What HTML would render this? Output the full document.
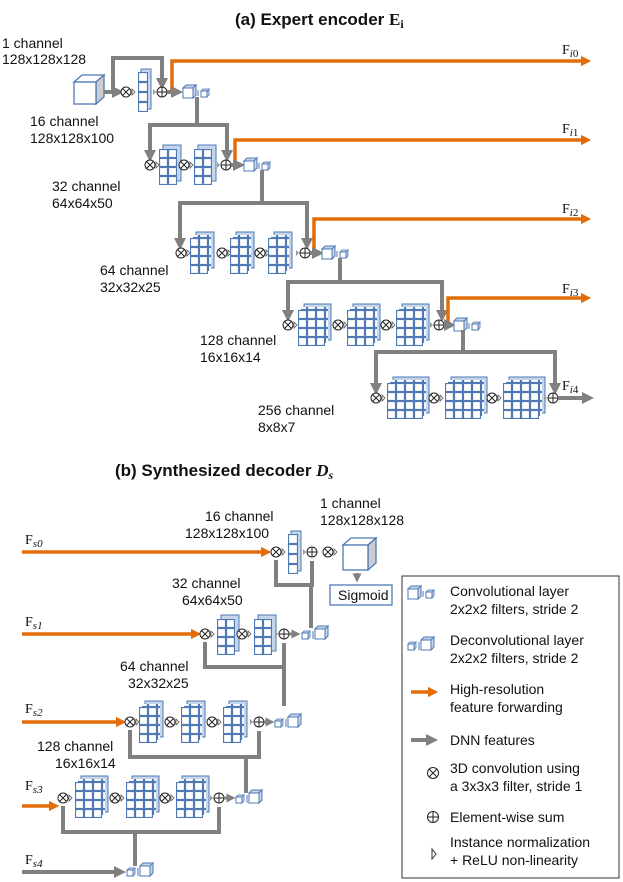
<!DOCTYPE html>
<html><head><meta charset="utf-8"><style>
html,body{margin:0;padding:0;background:#fff;width:623px;height:882px;overflow:hidden}
svg text{font-family:"Liberation Sans",sans-serif;font-size:14px;fill:#111}
.F{font-family:"Liberation Serif",serif;font-size:14px}
.g{stroke:#808080;stroke-width:4;fill:none}
.o{stroke:#e36c0a;stroke-width:3.5;fill:none}
</style></head><body>
<svg width="623" height="882" viewBox="0 0 623 882" xmlns="http://www.w3.org/2000/svg">
<defs>
<pattern id="p9" width="9" height="9" patternUnits="userSpaceOnUse"><rect x="0.5" y="0.5" width="8" height="8" fill="#fff" stroke="#4f79b5" stroke-width="1.2"/></pattern>
<pattern id="p10" width="10" height="10" patternUnits="userSpaceOnUse"><rect x="0.5" y="0.5" width="9" height="9" fill="#fff" stroke="#4f79b5" stroke-width="1.2"/></pattern>
<marker id="ag" markerWidth="3" markerHeight="3" refX="1.5" refY="1.5" orient="auto" markerUnits="strokeWidth"><path d="M0,0 L3,1.5 L0,3z" fill="#808080"/></marker>
<marker id="ao" markerWidth="3" markerHeight="3" refX="1.5" refY="1.5" orient="auto" markerUnits="strokeWidth"><path d="M0,0 L3,1.5 L0,3z" fill="#e36c0a"/></marker>
<g id="ot"><circle r="5" fill="#fff" stroke="#222" stroke-width="1"/><path d="M-3.5,-3.5 L3.5,3.5 M-3.5,3.5 L3.5,-3.5" stroke="#222" stroke-width="1"/><path d="M6,-3 L9,0 L6,3z" fill="#fff" stroke="#555" stroke-width="0.8"/></g>
<g id="op"><path d="M-9,-3 L-6,0 L-9,3z" fill="#999"/><circle r="5" fill="#fff" stroke="#222" stroke-width="1"/><path d="M-5,0 H5 M0,-5 V5" stroke="#222" stroke-width="1"/></g>
<g id="conv"><path d="M0,-5 l3,-3 h10 l-3,3z M10,-5 l3,-3 v10 l-3,3z" fill="#c5d5ea" stroke="#4f79b5" stroke-width="1"/><rect x="0" y="-5" width="10" height="10" fill="#fff" stroke="#4f79b5"/><path d="M15,-3 v6" stroke="#4f79b5"/><path d="M18,-2 l2,-2 h6 l-2,2z M24,-2 l2,-2 v6 l-2,2z" fill="#c5d5ea" stroke="#4f79b5" stroke-width="0.8"/><rect x="18" y="-2" width="6" height="6" fill="#fff" stroke="#4f79b5"/></g>
<g id="dec"><path d="M0,-1 l2,-2 h6 l-2,2z M6,-1 l2,-2 v6 l-2,2z" fill="#c5d5ea" stroke="#4f79b5" stroke-width="0.8"/><rect x="0" y="-1" width="6" height="6" fill="#fff" stroke="#4f79b5"/><path d="M11,-3 v8" stroke="#4f79b5"/><path d="M13,-5 l3,-3 h10 l-3,3z M23,-5 l3,-3 v10 l-3,3z" fill="#c5d5ea" stroke="#4f79b5" stroke-width="1"/><rect x="13" y="-5" width="10" height="10" fill="#fff" stroke="#4f79b5"/></g>
<!-- blocks: origin at top-left of front face -->
<g id="b1"><rect x="3" y="-3" width="10" height="40" fill="#c5d5ea" stroke="#4f79b5"/><rect width="10" height="40" fill="url(#p10)"/></g>
<g id="b2"><rect x="4" y="-4" width="18" height="36" fill="#c5d5ea" stroke="#4f79b5"/><rect width="18" height="36" fill="url(#p9)"/></g>
<g id="b3"><rect x="6" y="-6" width="18" height="36" fill="#c5d5ea" stroke="#4f79b5"/><rect x="3" y="-3" width="18" height="36" fill="url(#p9)"/><rect width="18" height="36" fill="url(#p9)"/></g>
<g id="b4"><rect x="6" y="-6" width="27" height="36" fill="#c5d5ea" stroke="#4f79b5"/><rect x="3" y="-3" width="27" height="36" fill="url(#p9)"/><rect width="27" height="36" fill="url(#p9)"/></g>
<g id="b5"><rect x="6" y="-6" width="36" height="36" fill="#c5d5ea" stroke="#4f79b5"/><rect x="3" y="-3" width="36" height="36" fill="url(#p9)"/><rect width="36" height="36" fill="url(#p9)"/></g>
</defs>

<!-- (a) encoder -->
<text x="235" y="25" style="font-size:17px;font-weight:bold">(a) Expert encoder <tspan font-family="Liberation Serif">E<tspan font-size="12" dy="3">i</tspan></tspan></text>

<text x="2" y="48">1 channel</text><text x="2" y="64">128x128x128</text>
<path d="M74,82 l8,-7 h22 l-8,7z" fill="#fff" stroke="#4f79b5" stroke-width="1.3"/>
<path d="M96,82 l8,-7 v22 l-8,7z" fill="#ccc" stroke="#4f79b5" stroke-width="1.3"/>
<rect x="74" y="82" width="22" height="22" fill="#fff" stroke="#4f79b5" stroke-width="1.3"/>
<path class="g" d="M104,92 H118" marker-end="url(#ag)"/>
<path class="g" d="M113,92 V58 H162 V84" marker-end="url(#ag)"/>
<use href="#ot" x="126" y="92"/><use href="#b1" x="138" y="72"/>
<path class="o" d="M168,92 H172 V61 H586" marker-end="url(#ao)"/>
<use href="#op" x="162" y="92"/>
<path class="g" d="M167,92 H177" marker-end="url(#ag)"/>
<use href="#conv" x="183" y="93"/>
<text x="562" y="54" class="F">F<tspan font-size="11" dy="3" font-style="italic">i</tspan><tspan font-size="11">0</tspan></text>
<path class="g" d="M197,97 V125 M148,125 H229 M150,125 V157 M227,125 V157"/>
<path class="g" d="M150,150 V156" marker-end="url(#ag)"/><path class="g" d="M227,150 V156" marker-end="url(#ag)"/>
<text x="30" y="126">16 channel</text><text x="30" y="143">128x128x100</text>

<use href="#ot" x="150" y="165"/><use href="#b2" x="159" y="149"/>
<use href="#ot" x="184" y="165"/><use href="#b2" x="194" y="149"/>
<path class="o" d="M232,165 H235 V140 H586" marker-end="url(#ao)"/>
<use href="#op" x="226" y="165"/>
<path class="g" d="M231,165 H239" marker-end="url(#ag)"/>
<use href="#conv" x="244" y="166"/>
<text x="562" y="133" class="F">F<tspan font-size="11" dy="3" font-style="italic">i</tspan><tspan font-size="11">1</tspan></text>
<text x="52" y="191">32 channel</text><text x="52" y="208">64x64x50</text>
<path class="g" d="M262,170 V203 M178,203 H309 M180,203 V238 M307,203 V238"/>
<path class="g" d="M180,236 V244" marker-end="url(#ag)"/><path class="g" d="M307,236 V244" marker-end="url(#ag)"/>

<use href="#ot" x="181" y="253"/><use href="#b3" x="190" y="238"/>
<use href="#ot" x="222" y="253"/><use href="#b3" x="230" y="238"/>
<use href="#ot" x="260" y="253"/><use href="#b3" x="268" y="238"/>
<path class="o" d="M311,253 H314 V219 H586" marker-end="url(#ao)"/>
<use href="#op" x="305" y="253"/>
<path class="g" d="M310,253 H318" marker-end="url(#ag)"/>
<use href="#conv" x="322" y="254"/>
<text x="562" y="213" class="F">F<tspan font-size="11" dy="3" font-style="italic">i</tspan><tspan font-size="11">2</tspan></text>
<text x="100" y="275">64 channel</text><text x="100" y="292">32x32x25</text>
<path class="g" d="M340,258 V282 M286,282 H444 M288,282 V310 M442,282 V310"/>
<path class="g" d="M288,308 V316" marker-end="url(#ag)"/><path class="g" d="M442,308 V316" marker-end="url(#ag)"/>

<use href="#ot" x="288" y="325"/><use href="#b4" x="298" y="310"/>
<use href="#ot" x="338" y="325"/><use href="#b4" x="347" y="310"/>
<use href="#ot" x="386" y="325"/><use href="#b4" x="396" y="310"/>
<path class="o" d="M445,325 H448 V298 H586" marker-end="url(#ao)"/>
<use href="#op" x="439" y="325"/>
<path class="g" d="M444,325 H450" marker-end="url(#ag)"/>
<use href="#conv" x="454" y="326"/>
<text x="562" y="293" class="F">F<tspan font-size="11" dy="3" font-style="italic">i</tspan><tspan font-size="11">3</tspan></text>
<text x="200" y="345">128 channel</text><text x="200" y="362">16x16x14</text>
<path class="g" d="M463,330 V352 M374,352 H557 M376,352 V382 M555,352 V382"/>
<path class="g" d="M376,381 V389" marker-end="url(#ag)"/><path class="g" d="M555,381 V389" marker-end="url(#ag)"/>

<use href="#ot" x="376" y="398"/><use href="#b5" x="387" y="383"/>
<use href="#ot" x="434" y="398"/><use href="#b5" x="445" y="383"/>
<use href="#ot" x="492" y="398"/><use href="#b5" x="503" y="383"/>
<use href="#op" x="553" y="398"/>
<path class="g" d="M558,398 H588" marker-end="url(#ag)"/>
<text x="562" y="390" class="F">F<tspan font-size="11" dy="3" font-style="italic">i</tspan><tspan font-size="11">4</tspan></text>
<text x="258" y="415">256 channel</text><text x="258" y="432">8x8x7</text>

<!-- (b) decoder -->
<text x="115" y="476" style="font-size:17px;font-weight:bold">(b) Synthesized decoder <tspan font-family="Liberation Serif" font-style="italic">D<tspan font-size="12" dy="3">s</tspan></tspan></text>
<text x="320" y="508">1 channel</text><text x="320" y="525">128x128x128</text>
<text x="205" y="521">16 channel</text><text x="185" y="538">128x128x100</text>

<text x="25" y="544" class="F">F<tspan font-size="11" dy="3" font-style="italic">s0</tspan></text>
<path class="o" d="M22,552 H266" marker-end="url(#ao)"/>
<path class="g" d="M276,560 V585 H312 V561"/>
<path class="g" d="M311,585 V628"/>
<use href="#ot" x="276" y="552"/><use href="#b1" x="288" y="534"/>
<use href="#op" x="312" y="552"/>
<use href="#ot" x="328" y="552"/>
<path d="M343,545 l8,-7 h25 l-8,7z" fill="#fff" stroke="#4f79b5" stroke-width="1.3"/>
<path d="M368,545 l8,-7 v25 l-8,7z" fill="#ccc" stroke="#4f79b5" stroke-width="1.3"/>
<rect x="343" y="545" width="25" height="25" fill="#fff" stroke="#4f79b5" stroke-width="1.3"/>
<path class="g" d="M357,573 V578" style="stroke-width:3" marker-end="url(#ag)"/>
<rect x="330" y="585" width="62" height="20" fill="#fff" stroke="#4f79b5" stroke-width="1.3"/>
<text x="338" y="600">Sigmoid</text>

<text x="172" y="588">32 channel</text><text x="182" y="605">64x64x50</text>
<text x="25" y="626" class="F">F<tspan font-size="11" dy="3" font-style="italic">s1</tspan></text>
<path class="o" d="M22,634 H196" marker-end="url(#ao)"/>
<path class="g" d="M205,642 V667 H284 V643 M284,667 V706"/>
<use href="#ot" x="205" y="634"/><use href="#b2" x="217" y="619"/>
<use href="#ot" x="242" y="634"/><use href="#b2" x="254" y="619"/>
<use href="#op" x="284" y="634"/>
<path class="g" d="M289,634 H296" style="stroke-width:3" marker-end="url(#ag)"/>
<use href="#dec" x="302" y="634"/>

<text x="120" y="671">64 channel</text><text x="128" y="688">32x32x25</text>
<text x="25" y="713" class="F">F<tspan font-size="11" dy="3" font-style="italic">s2</tspan></text>
<path class="o" d="M22,722 H121" marker-end="url(#ao)"/>
<path class="g" d="M130,730 V757 H259 V731 M246,757 V793"/>
<use href="#ot" x="130" y="722"/><use href="#b3" x="139" y="707"/>
<use href="#ot" x="170" y="722"/><use href="#b3" x="181" y="707"/>
<use href="#ot" x="212" y="722"/><use href="#b3" x="223" y="707"/>
<use href="#op" x="259" y="722"/>
<path class="g" d="M264,722 H270" style="stroke-width:3" marker-end="url(#ag)"/>
<use href="#dec" x="275" y="722"/>

<text x="37" y="751">128 channel</text><text x="55" y="768">16x16x14</text>
<text x="25" y="790" class="F">F<tspan font-size="11" dy="3" font-style="italic">s3</tspan></text>
<path class="o" d="M22,806 H54" marker-end="url(#ao)"/>
<path class="g" d="M63,806 V832 H219 V807 M135,832 V866"/>
<use href="#ot" x="63" y="798"/><use href="#b4" x="75" y="782"/>
<use href="#ot" x="115" y="798"/><use href="#b4" x="126" y="782"/>
<use href="#ot" x="165" y="798"/><use href="#b4" x="176" y="782"/>
<use href="#op" x="219" y="798"/>
<path class="g" d="M224,798 H231" style="stroke-width:3" marker-end="url(#ag)"/>
<use href="#dec" x="236" y="798"/>

<text x="25" y="864" class="F">F<tspan font-size="11" dy="3" font-style="italic">s4</tspan></text>
<path class="g" d="M22,872 H120" marker-end="url(#ag)"/>
<use href="#dec" x="127" y="871"/>

<!-- legend -->
<rect x="402" y="576" width="217" height="302" fill="#fff" stroke="#333" stroke-width="1"/>
<use href="#conv" x="408" y="594"/>
<text x="450" y="596">Convolutional layer</text><text x="450" y="614">2x2x2 filters, stride 2</text>
<use href="#dec" x="408" y="645"/>
<text x="450" y="645">Deconvolutional layer</text><text x="450" y="663">2x2x2 filters, stride 2</text>
<path class="o" d="M411,692 H433" marker-end="url(#ao)"/>
<text x="450" y="694">High-resolution</text><text x="450" y="712">feature forwarding</text>
<path class="g" d="M411,740 H432" marker-end="url(#ag)"/>
<text x="450" y="745">DNN features</text>
<g transform="translate(433,773)"><circle r="5.5" fill="#fff" stroke="#222"/><path d="M-4,-4 L4,4 M-4,4 L4,-4" stroke="#222"/></g>
<text x="450" y="773">3D convolution using</text><text x="450" y="791">a 3x3x3 filter, stride 1</text>
<g transform="translate(433,817)"><circle r="5.5" fill="#fff" stroke="#222"/><path d="M-5.5,0 H5.5 M0,-5.5 V5.5" stroke="#222"/></g>
<text x="450" y="822">Element-wise sum</text>
<path d="M432,849 L436,854 L432,859z" fill="#fff" stroke="#333"/>
<text x="450" y="847">Instance normalization</text><text x="450" y="865">+ ReLU non-linearity</text>
</svg>
</body></html>
